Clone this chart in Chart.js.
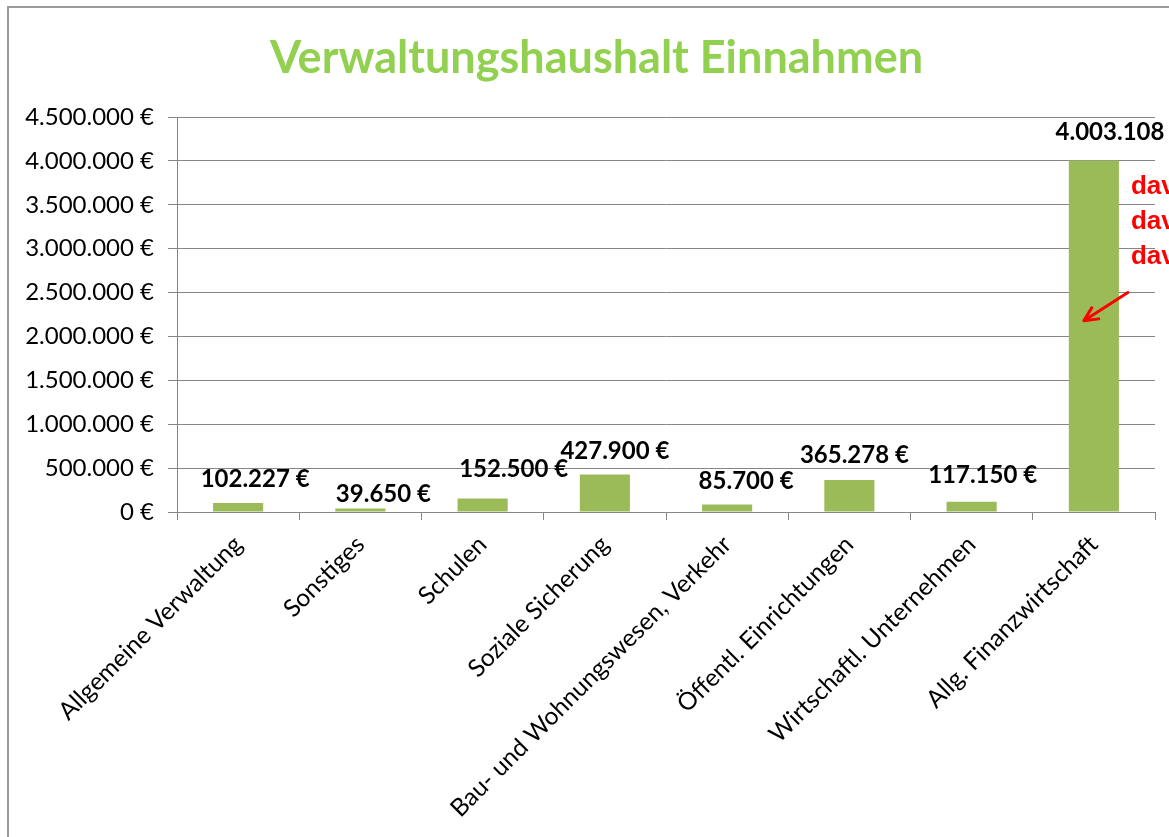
<!DOCTYPE html>
<html>
<head>
<meta charset="utf-8">
<script src="https://cdn.jsdelivr.net/npm/chart.js@4/dist/chart.umd.min.js"></script>
<style>
  html, body { margin: 0; padding: 0; background: #fff; overflow: hidden; }
  #wrap { width: 1169px; height: 837px; position: relative; }
</style>
</head>
<body>
<div id="wrap"><canvas id="einnahmenChart"></canvas></div>
<script>
const categories = [
  "Allgemeine Verwaltung",
  "Sonstiges",
  "Schulen",
  "Soziale Sicherung",
  "Bau- und Wohnungswesen, Verkehr",
  "Öffentl. Einrichtungen",
  "Wirtschaftl. Unternehmen",
  "Allg. Finanzwirtschaft"
];
const einnahmen = [102227, 39650, 152500, 427900, 85700, 365278, 117150, 4003108];
const yMax = 4500000;
const yStep = 500000;
const titel = "Verwaltungshaushalt Einnahmen";
const hinweisZeilen = ["davon", "davon", "davon"];

// label nudges (px), the original labels were placed by hand
const labelDx = [17, 23, 31, 10, 19, 5, 11, 26];
const labelDy = [24, 14, 29, 23, 23, 25, 26, 28];

const euro = (v) =>
  String(Math.round(v)).replace(/\B(?=(\d{3})+(?!\d))/g, ".") + " €";

Chart.defaults.font.family = "Lato, 'Open Sans', sans-serif";
Chart.defaults.color = "#000";

// frame + title (the title sits a bit right of the canvas centre, like the source)
const frame = {
  id: "frame",
  beforeDraw(chart) {
    const c = chart.ctx;
    c.save();
    c.strokeStyle = "#9a9a9a";
    c.lineWidth = 2;
    c.strokeRect(8, 7, 3000, 3000);
    c.fillStyle = "#92d050";
    c.font = "bold 45px Lato, 'Open Sans', sans-serif";
    c.textAlign = "center";
    c.textBaseline = "middle";
    c.fillText(titel, chart.width / 2 + 12, 58);
    c.restore();
  }
};

const valueLabels = {
  id: "valueLabels",
  afterDatasetsDraw(chart) {
    const c = chart.ctx;
    const meta = chart.getDatasetMeta(0);
    c.save();
    c.font = "bold 24px Lato, 'Open Sans', sans-serif";
    c.fillStyle = "#000";
    c.textAlign = "center";
    c.textBaseline = "middle";
    meta.data.forEach((bar, i) => {
      c.fillText(euro(einnahmen[i]), bar.x + labelDx[i], bar.y - labelDy[i]);
    });
    c.restore();
  }
};

const hinweis = {
  id: "hinweis",
  afterDraw(chart) {
    const c = chart.ctx;
    const y = chart.scales.y;
    const bar = chart.getDatasetMeta(0).data[7];
    c.save();
    c.fillStyle = "#ff0000";
    c.font = "bold 26px 'Liberation Sans', Arial, sans-serif";
    c.textBaseline = "middle";
    hinweisZeilen.forEach((t, i) => {
      c.fillText(t, bar.x + 37, y.getPixelForValue(3700000) + i * 35);
    });
    // arrow
    const x0 = bar.x + 34, y0 = y.getPixelForValue(2500000);
    const x1 = bar.x - 10, y1 = y.getPixelForValue(2180000);
    const ang = Math.atan2(y1 - y0, x1 - x0);
    c.strokeStyle = "#ff0000";
    c.lineWidth = 3;
    c.lineCap = "round";
    c.beginPath();
    c.moveTo(x0, y0);
    c.lineTo(x1, y1);
    c.moveTo(x1, y1);
    c.lineTo(x1 - 15 * Math.cos(ang - 0.45), y1 - 15 * Math.sin(ang - 0.45));
    c.moveTo(x1, y1);
    c.lineTo(x1 - 15 * Math.cos(ang + 0.45), y1 - 15 * Math.sin(ang + 0.45));
    c.stroke();
    c.restore();
  }
};

new Chart(document.getElementById("einnahmenChart"), {
  type: "bar",
  data: {
    labels: categories,
    datasets: [{
      label: "Einnahmen",
      data: einnahmen,
      backgroundColor: "#9bbb59",
      categoryPercentage: 1,
      barPercentage: 0.41
    }]
  },
  options: {
    responsive: true,
    maintainAspectRatio: false,
    animation: false,
    layout: { padding: { left: 0, right: 14, top: 117, bottom: 0 } },
    plugins: {
      legend: { display: false },
      tooltip: { enabled: false },
      title: { display: false }
    },
    scales: {
      x: {
        grid: {
          offset: true,
          drawOnChartArea: false,
          drawTicks: true,
          tickLength: 8,
          color: "#868686"
        },
        border: { color: "#868686" },
        ticks: {
          autoSkip: false,
          maxRotation: 45,
          minRotation: 45,
          padding: 10,
          font: { size: 24.5 }
        },
        afterFit(scale) { scale.height = 325; }
      },
      y: {
        min: 0,
        max: yMax,
        grid: { color: "#868686", tickLength: 9 },
        border: { color: "#868686" },
        ticks: {
          stepSize: yStep,
          padding: 14,
          font: { size: 24 },
          callback: (v) => euro(v)
        },
        afterFit(scale) { scale.width = 177; }
      }
    }
  },
  plugins: [frame, valueLabels, hinweis]
});
</script>
</body>
</html>
